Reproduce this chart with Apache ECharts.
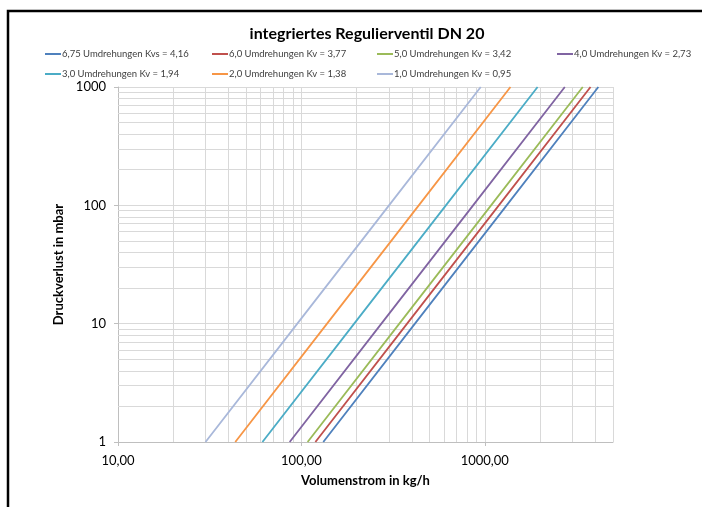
<!DOCTYPE html>
<html>
<head>
<meta charset="utf-8">
<script src="https://cdn.jsdelivr.net/npm/echarts@6/dist/echarts.min.js"></script>
<style>html,body{margin:0;padding:0;background:#fff}#c{width:702px;height:507px}</style>
</head>
<body>
<div id="c"></div>
<script>
const titleText = 'integriertes Regulierventil DN 20';
const xName = 'Volumenstrom in kg/h';
const yName = 'Druckverlust in mbar';
const seriesNames = [
  '6,75 Umdrehungen Kvs = 4,16',
  '6,0 Umdrehungen Kv = 3,77',
  '5,0 Umdrehungen Kv = 3,42',
  '4,0 Umdrehungen Kv = 2,73',
  '3,0 Umdrehungen Kv = 1,94',
  '2,0 Umdrehungen Kv = 1,38',
  '1,0 Umdrehungen Kv = 0,95'
];
const colors = ['#4F81BD', '#C0504D', '#9BBB59', '#8064A2', '#4BACC6', '#F79646', '#A9B8DA'];
const pressure = [1, 10, 100, 1000];
const flowKvs416 = [131.6, 416, 1315.5, 4160];
const flowKv377 = [119.2, 377, 1192.2, 3770];
const flowKv342 = [108.1, 342, 1081.5, 3420];
const flowKv273 = [86.3, 273, 863.3, 2730];
const flowKv194 = [61.3, 194, 613.5, 1940];
const flowKv138 = [43.6, 138, 436.4, 1380];
const flowKv095 = [30.0, 95, 300.4, 950];
const flows = [flowKvs416, flowKv377, flowKv342, flowKv273, flowKv194, flowKv138, flowKv095];
const xTickLabels = ['10,00', '100,00', '1000,00'];
const yTickLabels = ['1', '10', '100', '1000'];
const xMinorGrid = [20,30,40,50,60,70,80,90,200,300,400,500,600,700,800,900,2000,3000,4000,5000];
const yMinorGrid = [2,3,4,5,6,7,8,9,20,30,40,50,60,70,80,90,200,300,400,500,600,700,800,900];

const legendPos = [[45,49],[212,49],[377,49],[557,49],[45,69],[212,69],[377,69]];
const FONT = 'Lato';
const gridColor = '#D9D9D9';

const series = [{
  type: 'line', data: [], silent: true, z: 1,
  markLine: {
    silent: true, symbol: 'none', animation: false, z: 1,
    label: {show: false},
    lineStyle: {color: gridColor, width: 1, type: 'solid'},
    emphasis: {disabled: true},
    data: xMinorGrid.map(v => ({xAxis: v})).concat(yMinorGrid.map(v => ({yAxis: v})))
  }
}];
seriesNames.forEach((n, i) => {
  series.push({
    name: n, type: 'line', z: 10, showSymbol: false, symbol: 'none',
    color: colors[i],
    lineStyle: {width: 1.8, color: colors[i]},
    data: pressure.map((p, j) => [flows[i][j], p])
  });
});

const legends = seriesNames.map((n, i) => ({
  data: [n], left: legendPos[i][0], top: legendPos[i][1],
  icon: 'rect', itemWidth: 16, itemHeight: 2, itemGap: 0,
  textStyle: {fontFamily: FONT, fontSize: 9.5, color: '#404040', padding: [0,0,0,-4]},
  padding: 0
}));

function fmtX(v) {
  const i = Math.round(Math.log10(v)) - 1;
  return xTickLabels[i] !== undefined ? xTickLabels[i] : '';
}
function fmtY(v) {
  const i = Math.round(Math.log10(v));
  return yTickLabels[i] !== undefined ? yTickLabels[i] : '';
}

const chart = echarts.init(document.getElementById('c'), null, {renderer: 'canvas'});
chart.setOption({
  animation: false,
  title: {text: titleText, left: 362, top: 21, textAlign: 'center',
    textStyle: {fontFamily: FONT, fontSize: 16, fontWeight: 'bold', color: '#000'}},
  legend: legends,
  grid: {left: 118, right: 89, top: 87, bottom: 65, containLabel: false},
  xAxis: {
    type: 'log', logBase: 10, min: 10, max: 5000,
    name: xName, nameLocation: 'middle', nameGap: 32,
    nameTextStyle: {fontFamily: FONT, fontSize: 13, fontWeight: 'bold', color: '#000'},
    axisLine: {show: true, lineStyle: {color: '#BFBFBF'}},
    axisTick: {show: true, length: 4, lineStyle: {color: '#BFBFBF'}},
    axisLabel: {fontFamily: FONT, fontSize: 13, color: '#000', margin: 12,
      showMaxLabel: false, formatter: fmtX},
    splitLine: {show: true, lineStyle: {color: gridColor, width: 1}}
  },
  yAxis: {
    type: 'log', logBase: 10, min: 1, max: 1000,
    name: yName, nameLocation: 'middle', nameGap: 35, nameRotate: 90,
    nameTextStyle: {fontFamily: FONT, fontSize: 13, fontWeight: 'bold', color: '#000'},
    axisLine: {show: true, lineStyle: {color: '#BFBFBF'}},
    axisTick: {show: true, length: 4, lineStyle: {color: '#BFBFBF'}},
    axisLabel: {fontFamily: FONT, fontSize: 13, color: '#000', margin: 12, formatter: fmtY},
    splitLine: {show: true, lineStyle: {color: gridColor, width: 1}}
  },
  graphic: [{
    type: 'rect', silent: true, z: 100,
    shape: {x: 8, y: 11, width: 702, height: 505},
    style: {fill: 'none', stroke: '#000', lineWidth: 2.5}
  }],
  series: series
});
</script>
</body>
</html>
